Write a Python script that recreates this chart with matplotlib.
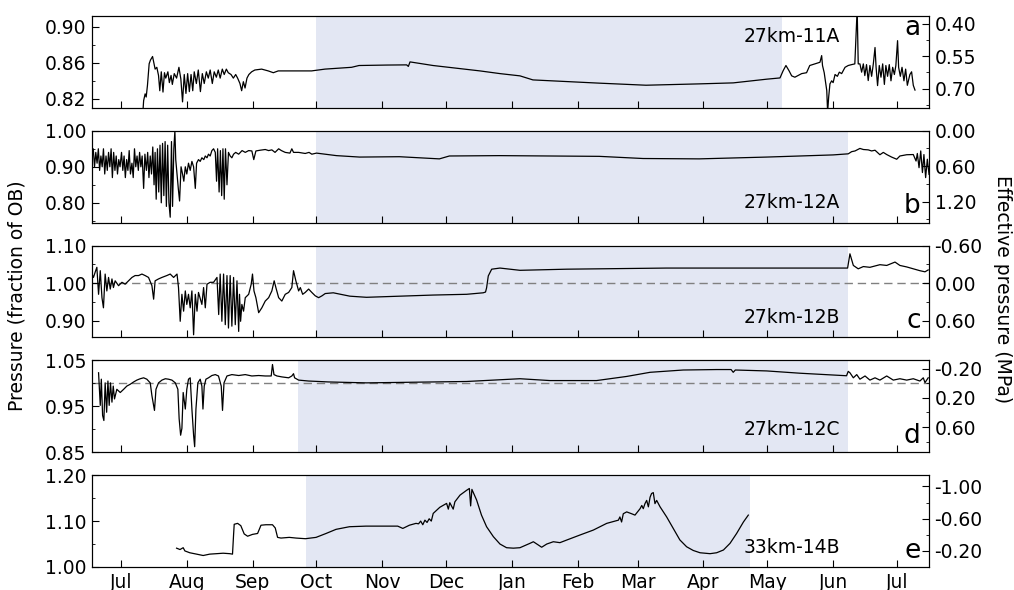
import numpy as np
import matplotlib.pyplot as plt
import matplotlib.dates as mdates
from matplotlib.ticker import AutoMinorLocator, FixedLocator, FormatStrFormatter
from datetime import datetime

# days since 1 Jul 2014, pressure as fraction of overburden
t0 = mdates.date2num(datetime(2014, 7, 1))

a_series = [
    (10.2, 0.800), (10.7, 0.818), (11.4, 0.8255), (11.9, 0.822), (12.5, 0.835), (13.3, 0.859),
    (13.9, 0.863), (14.9, 0.867), (15.5, 0.860), (16.1, 0.853), (16.9, 0.855), (17.7, 0.846),
    (18.3, 0.829), (19.0, 0.850), (19.8, 0.8275), (20.5, 0.849), (21.1, 0.843), (22.1, 0.850),
    (22.8, 0.838), (23.6, 0.846), (24.2, 0.836), (25.1, 0.848), (26.2, 0.843), (27.3, 0.855),
    (28.2, 0.842), (29.0, 0.8166), (29.8, 0.847), (30.6, 0.826), (31.4, 0.848), (32.2, 0.828),
    (33.0, 0.847), (33.8, 0.829), (34.5, 0.850), (35.5, 0.837), (36.4, 0.852), (37.4, 0.828),
    (38.3, 0.848), (39.2, 0.837), (40.2, 0.850), (41.1, 0.843), (42.0, 0.852), (43.0, 0.837),
    (43.9, 0.850), (44.9, 0.844), (45.8, 0.852), (46.7, 0.843), (47.7, 0.853), (48.6, 0.847),
    (49.6, 0.853), (50.5, 0.849), (51.8, 0.847), (52.9, 0.843), (54.0, 0.847), (54.9, 0.843),
    (56.0, 0.837), (56.8, 0.829), (57.6, 0.839), (58.4, 0.832), (59.3, 0.843), (60.2, 0.847),
    (61.5, 0.850), (63.0, 0.852), (66.2, 0.853), (69.3, 0.851), (71.7, 0.849), (74.0, 0.851),
    (80.3, 0.851), (89.7, 0.851), (96.0, 0.853), (108.5, 0.855), (112.0, 0.857), (125.0, 0.8575),
    (134.4, 0.8577), (135.2, 0.856), (136.0, 0.861), (146.8, 0.857), (168.9, 0.851), (178.3, 0.848),
    (187.7, 0.8455), (193.8, 0.841), (225.0, 0.8374), (247.0, 0.8351), (272.0, 0.8366),
    (288.0, 0.8377), (303.7, 0.8418), (310.0, 0.8432), (311.5, 0.8513), (312.8, 0.857),
    (314.3, 0.851), (315.5, 0.8455), (317.0, 0.844), (320.2, 0.848), (322.5, 0.849), (324.0, 0.857),
    (326.4, 0.8588), (328.8, 0.8606), (329.6, 0.868), (330.0, 0.857), (330.8, 0.849), (332.0, 0.8292),
    (332.4, 0.805), (332.9, 0.822), (333.5, 0.8366), (334.3, 0.840), (335.0, 0.838), (335.9, 0.847),
    (337.0, 0.845), (337.9, 0.8496), (339.0, 0.848), (340.6, 0.855), (342.1, 0.857), (343.7, 0.858),
    (345.2, 0.8588), (346.3, 0.920), (346.8, 0.8588), (347.6, 0.8588), (348.4, 0.8496),
    (349.2, 0.8588), (349.9, 0.8458), (350.7, 0.858), (351.5, 0.8403), (352.3, 0.857), (353.1, 0.845),
    (353.9, 0.8588), (354.7, 0.877), (355.2, 0.855), (355.9, 0.8347), (356.7, 0.857), (357.5, 0.844),
    (358.3, 0.8588), (359.1, 0.836), (359.8, 0.857), (360.6, 0.845), (361.4, 0.858), (362.2, 0.840),
    (363.0, 0.855), (363.8, 0.847), (364.5, 0.857), (365.3, 0.8846), (365.8, 0.855), (366.6, 0.845),
    (367.4, 0.855), (368.3, 0.840), (369.1, 0.853), (369.9, 0.835), (371.1, 0.847), (371.9, 0.850),
    (372.7, 0.835), (373.5, 0.8297),
]

b_series = [
    (-13.6, 0.93), (-13.0, 0.95), (-12.4, 0.90), (-11.8, 0.94), (-11.2, 0.91), (-10.6, 0.95),
    (-10.0, 0.89), (-9.4, 0.93), (-8.8, 0.90), (-8.2, 0.95), (-7.6, 0.88), (-7.0, 0.93),
    (-6.4, 0.89), (-5.8, 0.94), (-5.2, 0.90), (-4.6, 0.95), (-4.0, 0.87), (-3.4, 0.94),
    (-2.8, 0.89), (-2.2, 0.93), (-1.6, 0.88), (-1.0, 0.92), (-0.4, 0.90), (0.3, 0.94),
    (0.9, 0.89), (1.5, 0.93), (2.1, 0.87), (2.7, 0.92), (3.3, 0.89), (3.9, 0.945), (4.5, 0.88),
    (5.2, 0.91), (5.8, 0.87), (6.4, 0.95), (7.0, 0.90), (7.6, 0.93), (8.2, 0.89), (8.8, 0.94),
    (9.4, 0.90), (10.0, 0.93), (10.7, 0.84), (11.3, 0.935), (12.0, 0.89), (12.6, 0.94),
    (13.2, 0.87), (13.8, 0.93), (14.4, 0.88), (15.0, 0.955), (15.6, 0.85), (16.1, 0.94),
    (16.6, 0.81), (17.2, 0.95), (17.8, 0.83), (18.4, 0.96), (19.0, 0.80), (19.6, 0.965),
    (20.2, 0.82), (20.8, 0.97), (21.4, 0.79), (22.0, 0.96), (22.6, 0.80), (23.2, 0.76),
    (23.8, 0.97), (24.3, 0.79), (24.9, 0.95), (25.4, 1.00), (25.8, 0.92), (26.4, 0.88),
    (27.0, 0.84), (27.6, 0.805), (28.3, 0.90), (29.0, 0.88), (29.6, 0.86), (30.3, 0.90),
    (31.0, 0.88), (31.8, 0.91), (32.6, 0.89), (33.4, 0.915), (34.2, 0.90), (35.0, 0.84),
    (35.6, 0.91), (36.5, 0.92), (37.3, 0.915), (38.1, 0.925), (39.0, 0.92), (39.7, 0.93),
    (40.5, 0.925), (41.2, 0.935), (42.0, 0.93), (42.8, 0.945), (43.6, 0.95), (44.4, 0.94),
    (45.0, 0.86), (45.5, 0.95), (46.2, 0.83), (46.8, 0.945), (47.4, 0.82), (48.0, 0.95),
    (48.6, 0.81), (49.2, 0.95), (49.9, 0.85), (50.6, 0.94), (51.4, 0.93), (52.2, 0.925),
    (53.0, 0.935), (54.0, 0.94), (55.4, 0.935), (57.0, 0.945), (58.5, 0.94), (60.1, 0.945),
    (61.6, 0.944), (62.5, 0.92), (63.5, 0.944), (65.5, 0.946), (67.9, 0.948), (69.5, 0.945),
    (71.0, 0.947), (72.5, 0.94), (74.2, 0.95), (75.5, 0.945), (77.3, 0.94), (79.5, 0.938),
    (80.4, 0.95), (81.2, 0.94), (83.6, 0.94), (86.7, 0.937), (88.5, 0.94), (89.8, 0.935),
    (92.0, 0.938), (101.4, 0.931), (112.3, 0.927), (131.0, 0.928), (137.3, 0.926), (149.8, 0.922),
    (152.7, 0.927), (154.5, 0.930), (178.0, 0.931), (225.0, 0.929), (245.6, 0.923), (272.0, 0.922),
    (303.7, 0.927), (335.0, 0.933), (342.1, 0.936), (343.7, 0.942), (345.3, 0.944), (347.6, 0.951),
    (349.2, 0.948), (351.5, 0.947), (353.1, 0.944), (354.7, 0.946), (357.0, 0.9335), (358.6, 0.940),
    (360.2, 0.934), (362.5, 0.927), (364.9, 0.921), (366.4, 0.930), (369.6, 0.9335), (372.7, 0.934),
    (374.0, 0.916), (374.6, 0.937), (375.4, 0.8975), (376.2, 0.944), (377.0, 0.884), (377.7, 0.934),
    (378.5, 0.870), (379.3, 0.921), (380.1, 0.879),
]

c_series = [
    (-13.6, 1.024), (-12.9, 1.015), (-12.1, 1.029), (-11.3, 1.042), (-10.5, 0.970), (-9.7, 1.033),
    (-8.9, 0.961), (-8.2, 0.934), (-7.4, 1.024), (-6.6, 0.979), (-5.8, 1.015), (-5.0, 0.984),
    (-4.2, 1.011), (-3.5, 0.988), (-2.7, 1.006), (-1.1, 0.993), (0.5, 1.002), (2.0, 0.997),
    (3.6, 1.006), (5.2, 1.015), (6.7, 1.020), (8.3, 1.020), (9.9, 1.024), (11.4, 1.020),
    (13.0, 1.015), (14.6, 0.993), (15.4, 0.957), (16.1, 1.006), (17.7, 1.011), (19.3, 1.015),
    (21.6, 1.020), (23.2, 1.024), (24.8, 1.015), (26.4, 1.024), (27.1, 0.988), (27.9, 0.898),
    (28.7, 0.970), (29.5, 0.925), (30.3, 0.979), (31.0, 0.943), (31.8, 0.970), (32.6, 0.934),
    (33.4, 0.979), (34.2, 0.862), (35.0, 0.970), (35.8, 0.925), (36.5, 0.975), (38.1, 0.943),
    (38.9, 0.988), (39.7, 0.934), (40.5, 0.997), (42.0, 1.002), (43.6, 1.002), (45.2, 1.015),
    (46.0, 0.916), (46.7, 1.024), (47.5, 0.898), (48.3, 1.024), (49.1, 0.889), (49.9, 1.020),
    (50.6, 0.880), (51.4, 1.020), (52.2, 0.885), (53.0, 1.015), (53.8, 0.889), (54.6, 1.006),
    (55.4, 0.871), (55.8, 0.970), (56.3, 0.898), (56.9, 0.943), (57.7, 0.925), (58.5, 0.961),
    (60.1, 0.970), (61.3, 0.997), (61.9, 1.024), (62.6, 0.979), (63.5, 0.961), (64.8, 0.921),
    (66.3, 0.934), (67.9, 0.952), (69.5, 0.961), (71.0, 0.979), (72.1, 1.006), (72.9, 0.988),
    (74.2, 0.961), (75.7, 0.952), (77.3, 0.970), (78.9, 0.975), (80.4, 0.988), (81.2, 1.033),
    (82.3, 1.006), (83.6, 0.979), (84.4, 0.988), (85.5, 0.970), (86.7, 0.975), (88.3, 0.984),
    (89.8, 0.975), (91.4, 0.966), (93.0, 0.961), (94.6, 0.966), (96.1, 0.972), (99.9, 0.974),
    (107.7, 0.965), (115.5, 0.962), (131.2, 0.965), (146.9, 0.968), (162.6, 0.970), (170.4, 0.974),
    (171.5, 0.976), (172.0, 0.987), (172.8, 1.019), (174.4, 1.037), (178.3, 1.040), (187.7, 1.034),
    (209.6, 1.037), (256.7, 1.040), (303.7, 1.040), (341.8, 1.040), (342.9, 1.078), (344.5, 1.047),
    (346.8, 1.038), (349.2, 1.044), (352.3, 1.042), (357.0, 1.049), (360.2, 1.047), (364.1, 1.056),
    (366.4, 1.047), (369.6, 1.043), (372.7, 1.038), (375.8, 1.033), (378.2, 1.030), (379.7, 1.035),
]

d_series = [
    (-10.5, 1.023), (-9.7, 0.952), (-9.2, 1.009), (-8.6, 0.930), (-8.0, 0.919), (-7.4, 1.001),
    (-6.7, 0.937), (-6.1, 1.005), (-5.5, 0.952), (-4.9, 1.001), (-4.2, 0.959), (-3.6, 0.994),
    (-3.0, 0.966), (-1.9, 0.987), (-0.3, 0.980), (1.3, 0.987), (2.8, 0.994), (4.4, 0.998),
    (6.0, 1.003), (7.5, 1.007), (9.1, 1.010), (10.7, 1.012), (12.2, 1.009), (13.8, 1.001),
    (14.6, 0.973), (15.8, 0.941), (16.5, 0.987), (17.7, 1.001), (19.3, 1.007), (20.9, 1.010),
    (22.4, 1.009), (24.0, 1.007), (25.6, 1.001), (26.8, 0.987), (27.4, 0.923), (28.1, 0.887),
    (28.7, 0.902), (29.3, 0.980), (30.3, 0.944), (31.0, 0.987), (31.8, 1.009), (32.6, 1.012),
    (33.4, 0.944), (34.2, 0.887), (34.7, 0.862), (35.3, 0.944), (36.2, 1.001), (37.3, 1.009),
    (38.1, 0.994), (38.6, 0.944), (39.2, 0.994), (40.0, 1.009), (41.2, 1.012), (42.8, 1.017),
    (44.4, 1.019), (45.9, 1.016), (47.2, 0.994), (47.8, 0.941), (48.5, 1.001), (49.9, 1.016),
    (52.2, 1.019), (55.4, 1.017), (58.5, 1.019), (61.6, 1.016), (64.8, 1.017), (67.9, 1.016),
    (70.7, 1.016), (71.3, 1.041), (72.0, 1.019), (73.4, 1.016), (75.7, 1.014), (78.9, 1.012),
    (80.4, 1.016), (81.2, 1.021), (81.7, 1.012), (83.6, 1.007), (88.3, 1.005), (93.0, 1.004),
    (97.7, 1.003), (115.5, 1.001), (146.9, 1.003), (162.6, 1.004), (187.7, 1.010), (201.8, 1.006),
    (223.7, 1.006), (237.9, 1.015), (248.9, 1.024), (264.5, 1.029), (280.2, 1.030), (287.0, 1.030),
    (288.0, 1.024), (289.0, 1.029), (303.7, 1.027), (319.4, 1.022), (341.3, 1.0165), (342.1, 1.026),
    (342.9, 1.023), (344.5, 1.012), (346.1, 1.019), (347.6, 1.009), (350.0, 1.016), (352.3, 1.007),
    (354.7, 1.012), (357.0, 1.007), (360.2, 1.016), (363.3, 1.007), (366.4, 1.010), (369.6, 1.007),
    (372.7, 1.010), (375.8, 1.005), (377.4, 1.012), (378.2, 1.0015), (379.7, 1.012),
]

e_series = [
    (26.2, 1.041), (27.8, 1.038), (29.3, 1.042), (30.1, 1.035), (32.4, 1.031), (35.6, 1.028),
    (38.7, 1.025), (41.8, 1.028), (45.0, 1.029), (48.1, 1.030), (51.2, 1.029), (52.5, 1.028),
    (53.0, 1.070), (53.3, 1.093), (54.9, 1.095), (56.4, 1.090), (58.0, 1.072), (59.6, 1.067),
    (61.9, 1.071), (64.3, 1.073), (65.9, 1.091), (68.2, 1.092), (71.3, 1.092), (72.6, 1.085),
    (73.7, 1.0645), (75.3, 1.063), (79.2, 1.0645), (82.4, 1.063), (86.8, 1.0616), (91.8, 1.0645),
    (96.5, 1.073), (101.2, 1.082), (107.5, 1.0877), (115.3, 1.089), (123.2, 1.089), (130.2, 1.089),
    (132.6, 1.084), (135.7, 1.091), (138.8, 1.095), (140.0, 1.094), (141.0, 1.100), (142.0, 1.092),
    (143.0, 1.102), (144.0, 1.097), (145.0, 1.105), (146.0, 1.100), (146.9, 1.1167), (150.0, 1.130),
    (153.2, 1.1385), (154.0, 1.126), (154.7, 1.140), (156.3, 1.126), (157.1, 1.142), (159.5, 1.1565),
    (162.6, 1.167), (163.9, 1.171), (164.5, 1.133), (165.1, 1.169), (167.3, 1.146), (169.6, 1.113),
    (172.0, 1.0877), (175.2, 1.066), (178.3, 1.050), (181.4, 1.042), (184.6, 1.041), (187.7, 1.042),
    (192.4, 1.0515), (194.0, 1.055), (196.3, 1.048), (197.9, 1.043), (200.3, 1.050), (203.4, 1.055),
    (206.5, 1.053), (209.7, 1.0587), (215.9, 1.0696), (222.2, 1.0804), (228.5, 1.095), (234.0, 1.102),
    (234.7, 1.109), (235.5, 1.098), (236.3, 1.116), (237.9, 1.120), (240.2, 1.116), (241.8, 1.113),
    (244.2, 1.127), (245.0, 1.134), (245.7, 1.127), (246.5, 1.138), (247.3, 1.145), (248.1, 1.131),
    (248.9, 1.152), (249.6, 1.160), (250.4, 1.162), (251.2, 1.138), (252.0, 1.145), (253.6, 1.131),
    (256.7, 1.109), (259.8, 1.084), (262.9, 1.059), (266.1, 1.044), (269.2, 1.036), (272.4, 1.031),
    (277.1, 1.029), (280.2, 1.031), (283.4, 1.037), (286.5, 1.0515), (289.6, 1.073), (292.8, 1.098),
    (295.1, 1.113),
]

series = [a_series, b_series, c_series, d_series, e_series]
sites = ['27km-11A', '27km-12A', '27km-12B', '27km-12C', '33km-14B']
letters = ['a', 'b', 'c', 'd', 'e']
left_lims = [(0.81, 0.912), (0.745, 1.0), (0.855, 1.10), (0.85, 1.05), (1.0, 1.2)]
left_ticks = [[0.82, 0.86, 0.90], [0.80, 0.90, 1.00], [0.90, 1.00, 1.10],
              [0.85, 0.95, 1.05], [1.00, 1.10, 1.20]]
right_ticks = [[0.40, 0.55, 0.70], [0.0, 0.6, 1.2], [-0.6, 0.0, 0.6],
               [-0.2, 0.2, 0.6], [-1.0, -0.6, -0.2]]
overburden = [4.15, 6.1, 6.0, 6.3, 5.7]   # MPa, effective pressure = OB * (1 - P)
winter = [(92, 311), (92, 342), (92, 342), (83.5, 342), (87, 296)]
show_flotation = [False, False, True, True, False]

fig, axes = plt.subplots(5, 1, figsize=(10.14, 5.90), dpi=100, sharex=True)
fig.subplots_adjust(left=0.0907, right=0.9162, top=0.9729, bottom=0.039, hspace=0.25)

fs = 13.5
for i, ax in enumerate(axes):
    pts = np.array(series[i])
    ax.axvspan(t0 + winter[i][0], t0 + winter[i][1], color='#e3e7f3', lw=0, zorder=0)
    if show_flotation[i]:
        ax.axhline(1.0, color='#808080', lw=1.0, ls=(0, (6, 3.5)), zorder=1)
    ax.plot(t0 + pts[:, 0], pts[:, 1], color='black', lw=0.9, zorder=2)

    lo, hi = left_lims[i]
    ax.set_ylim(lo, hi)
    ax.yaxis.set_major_locator(FixedLocator(left_ticks[i]))
    ax.yaxis.set_minor_locator(AutoMinorLocator(2))
    ax.yaxis.set_major_formatter(FormatStrFormatter('%.2f'))
    ax.tick_params(axis='both', which='both', direction='in', labelsize=fs,
                   top=False, right=False, pad=4)
    ax.tick_params(which='major', length=5)
    ax.tick_params(which='minor', length=2.5)

    ax2 = ax.twinx()
    ob = overburden[i]
    ax2.set_ylim(ob * (1 - lo), ob * (1 - hi))
    ax2.yaxis.set_major_locator(FixedLocator(right_ticks[i]))
    ax2.yaxis.set_minor_locator(AutoMinorLocator(2))
    ax2.yaxis.set_major_formatter(FormatStrFormatter('%.2f'))
    ax2.tick_params(axis='y', which='both', direction='in', labelsize=fs, pad=4)
    ax2.tick_params(which='major', length=5)
    ax2.tick_params(which='minor', length=2.5)

    if i == 0:
        ax.text(0.894, 0.78, sites[i], transform=ax.transAxes, ha='right', va='center', fontsize=fs)
        ax.text(0.99, 0.79, letters[i], transform=ax.transAxes, ha='right', va='baseline', fontsize=19)
    else:
        ypos = 0.25 if i == 3 else 0.217
        ax.text(0.894, ypos, sites[i], transform=ax.transAxes, ha='right', va='center', fontsize=fs)
        ax.text(0.99, 0.1, letters[i], transform=ax.transAxes, ha='right', va='baseline', fontsize=19)

axes[-1].set_xlim(t0 - 13.6, t0 + 380.1)
axes[-1].xaxis.set_major_locator(mdates.MonthLocator())
axes[-1].xaxis.set_major_formatter(mdates.DateFormatter('%b'))

fig.text(0.017, 0.498, 'Pressure (fraction of OB)', rotation=90, ha='center', va='center', fontsize=fs)
fig.text(0.989, 0.51, 'Effective pressure (MPa)', rotation=270, ha='center', va='center', fontsize=fs)

fig.savefig('out.png', dpi=100)
